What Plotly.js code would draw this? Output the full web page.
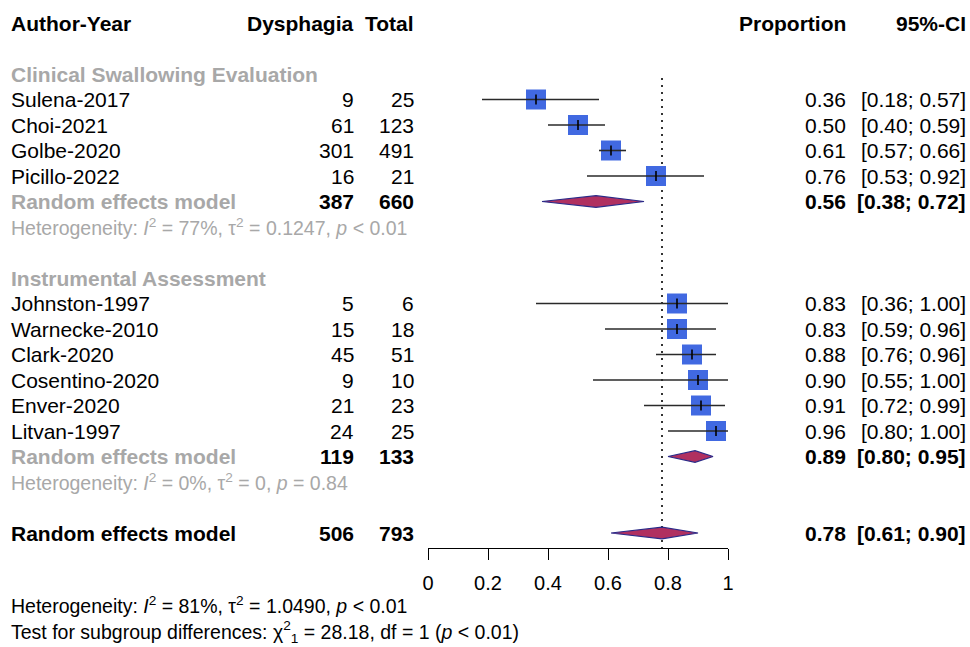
<!DOCTYPE html>
<html>
<head>
<meta charset="utf-8">
<script src="https://cdn.plot.ly/plotly-3.0.1.min.js"></script>
<style>html,body{margin:0;padding:0;background:#fff;}#chart{width:970px;height:647px;}</style>
</head>
<body>
<div id="chart"></div>
<script>
// ---------- data ----------
const groupNames = ['Clinical Swallowing Evaluation', 'Instrumental Assessment'];

const studies1 = ['Sulena-2017', 'Choi-2021', 'Golbe-2020', 'Picillo-2022'];
const events1  = [9, 61, 301, 16];
const totals1  = [25, 123, 491, 21];
const prop1    = [0.36, 0.50, 0.61, 0.76];
const lower1   = [0.18, 0.40, 0.57, 0.53];
const upper1   = [0.57, 0.59, 0.66, 0.92];

const studies2 = ['Johnston-1997', 'Warnecke-2010', 'Clark-2020', 'Cosentino-2020', 'Enver-2020', 'Litvan-1997'];
const events2  = [5, 15, 45, 9, 21, 24];
const totals2  = [6, 18, 51, 10, 23, 25];
const prop2    = [0.83, 0.83, 0.88, 0.90, 0.91, 0.96];
const lower2   = [0.36, 0.59, 0.76, 0.55, 0.72, 0.80];
const upper2   = [1.00, 0.96, 0.96, 1.00, 0.99, 1.00];

const summaryLabel  = 'Random effects model';
const summaryEvents = [387, 119, 506];
const summaryTotals = [660, 133, 793];
const summaryEst    = [0.56, 0.89, 0.78];
const summaryLower  = [0.38, 0.80, 0.61];
const summaryUpper  = [0.72, 0.95, 0.90];

const hetTexts = [
  'Heterogeneity: <i>I</i><sup>2</sup> = 77%, τ<sup>2</sup> = 0.1247, <i>p</i> &lt; 0.01',
  'Heterogeneity: <i>I</i><sup>2</sup> = 0%, τ<sup>2</sup> = 0, <i>p</i> = 0.84'
];
const overallHet = 'Heterogeneity: <i>I</i><sup>2</sup> = 81%, τ<sup>2</sup> = 1.0490, <i>p</i> &lt; 0.01';
const subgroupTest = 'Test for subgroup differences: χ<sup>2</sup><sub>1</sub> = 28.18, df = 1 (<i>p</i> &lt; 0.01)';

const headers = ['Author-Year', 'Dysphagia', 'Total', 'Proportion', '95%-CI'];
const tickVals = [0, 0.2, 0.4, 0.6, 0.8, 1];
const tickText = ['0', '0.2', '0.4', '0.6', '0.8', '1'];

// ---------- layout helpers ----------
const FONT = 'Liberation Sans, Arial, Helvetica, sans-serif';
const FS = 21, FS_HET = 19.5;
const GRAY = '#a8a8a8';
const W = 970, H = 647;
const L = 428, R = 728;            // plot domain in px
const ROW0 = 74, ROWH = 25.5;      // row 0 centre and row height (px)
const px2paper = p => (p - L) / (R - L);
const colX = {label: 10, events: 355, total: 415, prop: 847, ci: 967};

const annotations = [];
function ann(xpx, row, text, anchor, opts) {
  opts = opts || {};
  annotations.push({
    xref: 'paper', yref: 'y', x: px2paper(xpx), y: row, text: text,
    xanchor: anchor, yanchor: 'middle', align: anchor, showarrow: false, borderpad: 0,
    font: {family: FONT, size: opts.size || FS, color: opts.color || '#000'}
  });
}
const b = s => '<b>' + s + '</b>';
const fmt = v => v.toFixed(2);
const ciStr = (l, u) => '[' + fmt(l) + '; ' + fmt(u) + ']';

// header
ann(colX.label, -2, b(headers[0]), 'left');
ann(colX.events, -2, b(headers[1]), 'right');
ann(colX.total, -2, b(headers[2]), 'right');
ann(colX.prop, -2, b(headers[3]), 'right');
ann(colX.ci, -2, b(headers[4]), 'right');

const groups = [
  {name: groupNames[0], s: studies1, e: events1, t: totals1, p: prop1, lo: lower1, hi: upper1, start: 0},
  {name: groupNames[1], s: studies2, e: events2, t: totals2, p: prop2, lo: lower2, hi: upper2, start: 8}
];

const sqX = [], sqY = [], lnX = [], lnY = [];
const diamonds = [];
const DH = 0.23;

groups.forEach((g, gi) => {
  ann(colX.label, g.start, b(g.name), 'left', {color: GRAY});
  g.s.forEach((name, i) => {
    const row = g.start + 1 + i;
    ann(colX.label, row, name, 'left');
    ann(colX.events, row, String(g.e[i]), 'right');
    ann(colX.total, row, String(g.t[i]), 'right');
    ann(colX.prop, row, fmt(g.p[i]), 'right');
    ann(colX.ci, row, ciStr(g.lo[i], g.hi[i]), 'right');
    sqX.push(g.p[i]); sqY.push(row);
    lnX.push(g.lo[i], g.hi[i], null); lnY.push(row, row, null);
  });
  const srow = g.start + 1 + g.s.length;
  ann(colX.label, srow, b(summaryLabel), 'left', {color: GRAY});
  ann(colX.events, srow, b(String(summaryEvents[gi])), 'right');
  ann(colX.total, srow, b(String(summaryTotals[gi])), 'right');
  ann(colX.prop, srow, b(fmt(summaryEst[gi])), 'right');
  ann(colX.ci, srow, b(ciStr(summaryLower[gi], summaryUpper[gi])), 'right');
  diamonds.push({row: srow, i: gi});
  ann(colX.label, srow + 1, hetTexts[gi], 'left', {color: GRAY, size: FS_HET});
});

// overall
const orow = 18;
ann(colX.label, orow, b(summaryLabel), 'left');
ann(colX.events, orow, b(String(summaryEvents[2])), 'right');
ann(colX.total, orow, b(String(summaryTotals[2])), 'right');
ann(colX.prop, orow, b(fmt(summaryEst[2])), 'right');
ann(colX.ci, orow, b(ciStr(summaryLower[2], summaryUpper[2])), 'right');
diamonds.push({row: orow, i: 2});

ann(colX.label, (619 - ROW0) / ROWH, overallHet + '<br>' + subgroupTest, 'left', {size: FS_HET});

// ---------- traces ----------
const traces = [];
traces.push({type: 'scatter', mode: 'markers', x: sqX, y: sqY, hoverinfo: 'skip',
  marker: {symbol: 'square', size: 20, color: '#4169E1', line: {width: 0}}});
traces.push({type: 'scatter', mode: 'lines', x: lnX, y: lnY, hoverinfo: 'skip',
  line: {color: '#2a2a2a', width: 1.6}});
traces.push({type: 'scatter', mode: 'markers', x: sqX, y: sqY, hoverinfo: 'skip',
  marker: {symbol: 'line-ns', size: 7, color: '#000', line: {width: 1.6, color: '#000'}}});
diamonds.forEach(d => {
  const e = summaryEst[d.i], l = summaryLower[d.i], u = summaryUpper[d.i], r = d.row;
  traces.push({type: 'scatter', mode: 'lines', fill: 'toself', hoverinfo: 'skip',
    x: [l, e, u, e, l], y: [r, r - DH, r, r + DH, r],
    fillcolor: '#B03060', line: {color: '#2a2a88', width: 1.2}});
});

const yTop = (0 - ROW0) / ROWH, yBot = (H - ROW0) / ROWH;
const axisPx = 548;

const layout = {
  width: W, height: H,
  margin: {l: L, r: W - R, t: 0, b: 0, pad: 0},
  paper_bgcolor: '#fff', plot_bgcolor: 'rgba(0,0,0,0)',
  showlegend: false,
  xaxis: {range: [0, 1], anchor: 'free', position: 1 - axisPx / H,
    showline: true, linecolor: '#000', linewidth: 1, showgrid: false, zeroline: false,
    ticks: 'outside', ticklen: 11, tickwidth: 1, tickcolor: '#000',
    tickvals: tickVals, ticktext: tickText, ticklabelstandoff: 6,
    tickfont: {family: FONT, size: 20, color: '#000'}, fixedrange: true},
  yaxis: {range: [yBot, yTop], visible: false, showgrid: false, zeroline: false, fixedrange: true},
  shapes: [{type: 'line', xref: 'x', yref: 'y', layer: 'below',
    x0: summaryEst[2], x1: summaryEst[2], y0: (78 - ROW0) / ROWH, y1: (axisPx - ROW0) / ROWH,
    line: {color: '#333', width: 2, dash: '2px,5px'}}],
  annotations: annotations
};

Plotly.newPlot('chart', traces, layout, {displayModeBar: false, staticPlot: true});
</script>
</body>
</html>
